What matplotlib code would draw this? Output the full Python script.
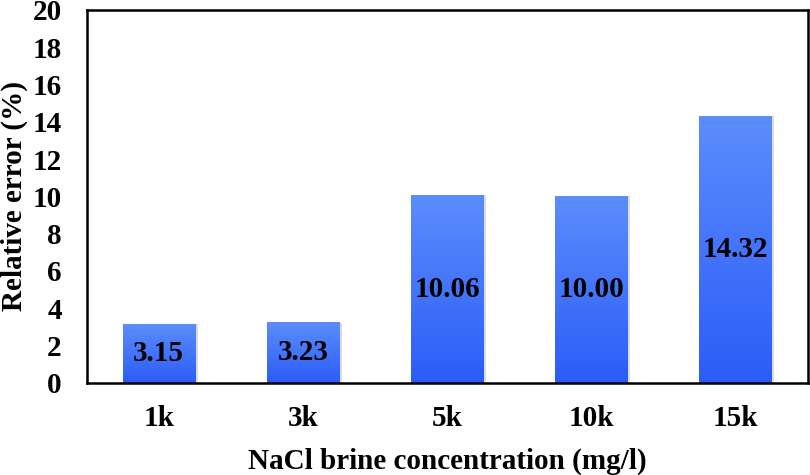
import numpy as np
import matplotlib
matplotlib.use('Agg')
import matplotlib.pyplot as plt
from matplotlib.colors import LinearSegmentedColormap

categories = ["1k", "3k", "5k", "10k", "15k"]
values = [3.15, 3.23, 10.06, 10.00, 14.32]
labels = ["3.15", "3.23", "10.06", "10.00", "14.32"]

plt.rcParams['font.family'] = 'Liberation Serif'
plt.rcParams['font.weight'] = 'bold'

fig = plt.figure(figsize=(8.1, 4.75), dpi=100)
ax = fig.add_axes([0.107, 0.194, 0.890, 0.785])

x = np.arange(len(categories))
w = 0.5
cmap = LinearSegmentedColormap.from_list("blu", ["#2c5cf8", "#5b8dfb"])
grad = np.linspace(0, 1, 256).reshape(-1, 1)

bars = ax.bar(x, values, width=w, color="none", edgecolor="none")
for b, v, lab in zip(bars, values, labels):
    x0 = b.get_x()
    # soft shadow
    ax.bar(b.get_x() + w / 2 + 0.01, v, width=w + 0.02, color="#d8dde8", zorder=1)
    ax.imshow(grad, extent=[x0, x0 + w, 0, v], origin="lower", cmap=cmap,
              aspect="auto", zorder=2)
    ax.text(b.get_x() + w / 2, v / 2, lab, ha="center", va="center",
            fontsize=21, fontweight="bold", zorder=3)

ax.set_xlim(-0.5, len(categories) - 0.5)
ax.set_ylim(0, 20)
ax.set_yticks(range(0, 21, 2))
ax.set_xticks(x)
ax.set_xticklabels(categories)
ax.tick_params(axis='both', length=0, labelsize=21)
ax.tick_params(axis='y', pad=18)
ax.tick_params(axis='x', pad=16)
for s in ax.spines.values():
    s.set_linewidth(1.8)

ax.set_xlabel("NaCl brine concentration (mg/l)", fontsize=21, fontweight="bold", labelpad=11)
ax.set_ylabel("Relative error (%)", fontsize=21, fontweight="bold", labelpad=3)

fig.savefig("out.png", dpi=100)
